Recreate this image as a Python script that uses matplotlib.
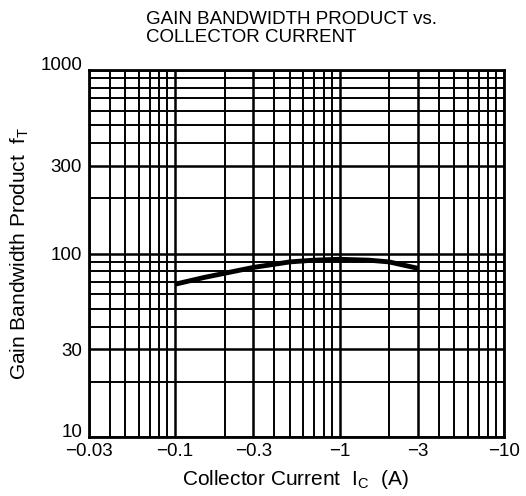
import numpy as np
import matplotlib
matplotlib.use('Agg')
import matplotlib.pyplot as plt
import matplotlib.transforms as mtransforms
from matplotlib.ticker import LogLocator, NullFormatter

plt.rcParams['font.family'] = ['Liberation Sans', 'DejaVu Sans']

# ─── Data ────────────────────────────────────────────────────────────────────
ic_amps = [-0.1, -0.15, -0.2, -0.3, -0.5, -0.7, -1.0, -1.5, -2.0, -3.0]
ft_values = [68, 74, 78, 84, 90, 92, 93, 92, 90, 83]

xtick_values = [0.03, 0.1, 0.3, 1, 3, 10]
xtick_labels = ['\u22120.03', '\u22120.1', '\u22120.3', '\u22121', '\u22123', '\u221210']
ytick_values = [10, 30, 100, 300, 1000]
ytick_labels = ['10', '30', '100', '300', '1000']

fig = plt.figure(figsize=(5.26, 4.96), dpi=100)
ax = fig.add_axes([89 / 526, 1 - 437 / 496, 415 / 526, 367 / 496])

ax.set_xscale('log')
ax.set_yscale('log')
ax.set_xlim(0.03, 10)
ax.set_ylim(10, 1000)

# datasheet style grid: every major and minor log line, all black
ax.xaxis.set_minor_locator(LogLocator(base=10, subs=np.arange(2, 10)))
ax.yaxis.set_minor_locator(LogLocator(base=10, subs=np.arange(2, 10)))
ax.xaxis.set_minor_formatter(NullFormatter())
ax.yaxis.set_minor_formatter(NullFormatter())
ax.grid(True, which='major', color='black', linewidth=1.8)
ax.grid(True, which='minor', color='black', linewidth=1.4)

ax.plot(np.abs(ic_amps), ft_values, color='black', linewidth=3.5,
        solid_capstyle='butt', zorder=3)

ax.set_xticks(xtick_values)
ax.set_xticklabels(xtick_labels)
ax.set_yticks(ytick_values)
ax.set_yticklabels(ytick_labels)
ax.tick_params(which='both', length=0, labelsize=13.5, colors='black')
ax.tick_params(axis='x', pad=4)
ax.tick_params(axis='y', pad=5)

# end labels "10" and "1000" sit a little above their lines, as on the sheet
lift = mtransforms.ScaledTranslation(0, 5 / 72, fig.dpi_scale_trans)
for lbl in (ax.get_yticklabels()[0], ax.get_yticklabels()[-1]):
    lbl.set_transform(lbl.get_transform() + lift)

for spine in ax.spines.values():
    spine.set_linewidth(2)
    spine.set_color('black')

ax.set_xlabel('Collector Current  I$_\\mathregular{C}$  (A)', fontsize=15)
ax.xaxis.set_label_coords(0.497, -0.085)
ax.set_ylabel('Gain Bandwidth Product  f$_\\mathregular{T}$', fontsize=15)
ax.yaxis.set_label_coords(-0.14, 0.5)

fig.text(146 / 526, 1 - 11 / 496, 'GAIN BANDWIDTH PRODUCT vs.\nCOLLECTOR CURRENT',
         ha='left', va='top', fontsize=13.5, linespacing=1.1)

fig.savefig('out.png', dpi=100)
